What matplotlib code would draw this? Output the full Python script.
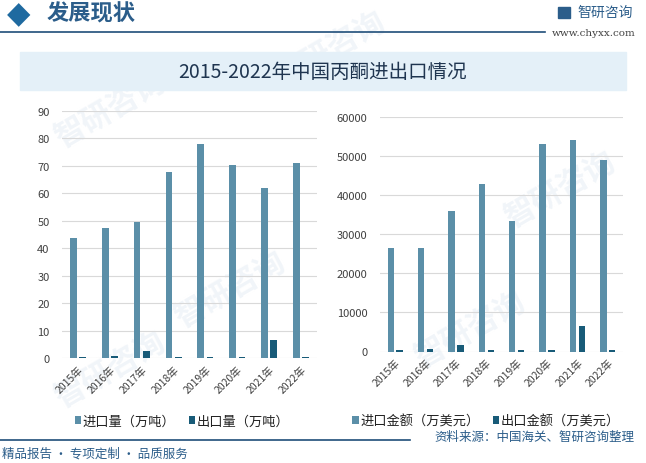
import numpy as np
import matplotlib.pyplot as plt
from matplotlib.patches import Rectangle

plt.rcParams['font.family'] = ['Noto Sans CJK SC', 'DejaVu Sans']

years = ['2015年', '2016年', '2017年', '2018年', '2019年', '2020年', '2021年', '2022年']
import_vol = [43.6, 47.3, 49.5, 67.8, 77.9, 70.5, 62.1, 71.2]      # 万吨
export_vol = [0.3, 0.7, 2.4, 0.3, 0.3, 0.3, 6.6, 0.3]
import_amt = [26500, 26500, 36000, 42950, 33400, 53200, 54200, 49100]  # 万美元
export_amt = [300, 700, 1600, 300, 300, 300, 6600, 300]

c_imp = '#5b8fa8'
c_exp = '#185b78'
navy = '#1f4e79'

W, H = 646, 464
fig = plt.figure(figsize=(W / 100, H / 100), dpi=100)
fig.patch.set_facecolor('white')

def fx(px):
    return px / W

def fy(py):
    return 1 - py / H

# faint watermarks (behind everything)
for (x, y) in [(110, 110), (330, 50), (230, 290), (560, 190), (110, 370), (470, 330)]:
    fig.text(fx(x), fy(y), '智研咨询', fontsize=22, color='#f1f5f9', rotation=30,
             ha='center', va='center', fontweight='bold', zorder=-5)

# header
fig.text(fx(19), fy(15), '◆', fontsize=22, color='#1f6aa0', ha='center', va='center',
         family=['DejaVu Sans'])
fig.text(fx(47), fy(14), '发展现状', fontsize=16, color='#2b5d8a', ha='left', va='center',
         fontweight='bold')
fig.add_artist(plt.Line2D([0, fx(545)], [fy(33), fy(33)], color=navy, lw=1.2))
fig.add_artist(Rectangle((fx(558), fy(19)), fx(12), 11 / H, color='#2b5d8a'))
fig.text(fx(577), fy(13), '智研咨询', fontsize=10, color='#2b5d8a', ha='left', va='center')
fig.text(fx(594), fy(33), 'www.chyxx.com', fontsize=7.5, color='#444444', ha='center',
         va='center', family=['DejaVu Serif'])

# title band
fig.add_artist(Rectangle((fx(20), fy(91)), fx(606), 38 / H, color='#e4f0f8', zorder=1))
fig.text(0.5, fy(73), '2015-2022年中国丙酮进出口情况', fontsize=14, color='#1f3550',
         ha='center', va='center', fontweight='medium', zorder=2)

ax1 = fig.add_axes([fx(62), fy(359), fx(255), (359 - 112) / H])
ax2 = fig.add_axes([fx(380), fy(352.5), fx(243), (352.5 - 118) / H])

x = np.arange(len(years))
w = 0.21
off = 0.145

def style(ax, top, step):
    ax.set_facecolor('none')
    ax.set_ylim(0, top)
    ax.set_yticks(np.arange(0, top + 1, step))
    ax.set_xlim(-0.5, len(years) - 0.5)
    ax.set_xticks(x)
    ax.set_xticklabels(years, rotation=45, ha='right', rotation_mode='anchor',
                       fontsize=7.5, color='#404040')
    ax.tick_params(axis='y', length=0, labelsize=8, labelcolor='#404040', pad=9)
    ax.tick_params(axis='x', length=0, pad=4)
    ax.grid(axis='y', color='#d9d9d9', lw=0.8)
    ax.set_axisbelow(True)
    for s in ax.spines.values():
        s.set_visible(False)

ax1.bar(x - off, import_vol, w, color=c_imp, label='进口量（万吨）')
ax1.bar(x + off, export_vol, w, color=c_exp, label='出口量（万吨）')
style(ax1, 90, 10)

ax2.bar(x - off, import_amt, w, color=c_imp, label='进口金额（万美元）')
ax2.bar(x + off, export_amt, w, color=c_exp, label='出口金额（万美元）')
style(ax2, 60000, 10000)

for ax, cx in [(ax1, 182), (ax2, 486)]:
    ax.legend(loc='center', bbox_to_anchor=(fx(cx), fy(422)), bbox_transform=fig.transFigure,
              ncol=2, frameon=False, fontsize=9.5, handlelength=0.5, handleheight=0.5,
              handletextpad=0.1, columnspacing=1.0, labelcolor='#222222')

# footer
fig.add_artist(plt.Line2D([0, fx(410)], [fy(441), fy(441)], color=navy, lw=1.2))
fig.text(fx(2), fy(454), '精品报告 · 专项定制 · 品质服务', fontsize=9, color='#2b5d8a',
         ha='left', va='center')
fig.text(fx(434), fy(437), '资料来源：中国海关、智研咨询整理', fontsize=9, color='#2b5d8a',
         ha='left', va='center')

fig.savefig('out.png', dpi=100)
